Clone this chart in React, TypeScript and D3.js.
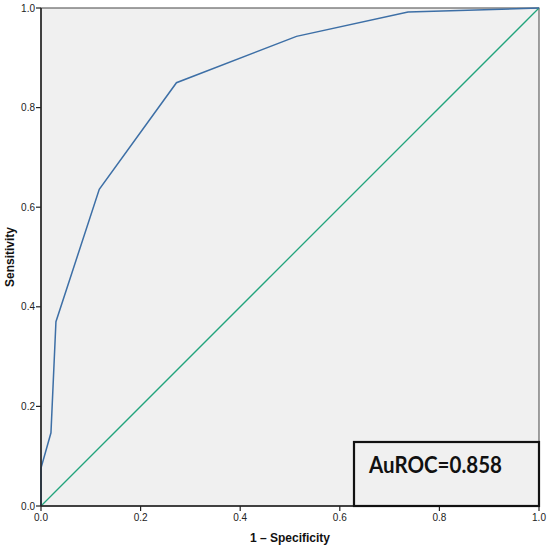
import * as d3 from 'd3';
import { useEffect } from 'react';

// ROC curve points
const fpr = [0, 0.0, 0.02, 0.03, 0.117, 0.272, 0.513, 0.737, 1.0];
const tpr = [0, 0.076, 0.147, 0.37, 0.636, 0.85, 0.943, 0.992, 1.0];
const refLine = [0, 1];
const ticks = [0, 0.2, 0.4, 0.6, 0.8, 1.0];
const aucLabel = 'AuROC=0.858';

export default function App() {
  useEffect(() => {
    document.body.style.margin = '0';
  }, []);

  const W = 550;
  const H = 549;
  const m = { left: 41, top: 8, right: 539, bottom: 506 };

  const x = d3.scaleLinear().domain([0, 1]).range([m.left, m.right]);
  const y = d3.scaleLinear().domain([0, 1]).range([m.bottom, m.top]);

  const line = d3.line<number>()
    .x((_, i) => x(fpr[i]))
    .y((_, i) => y(tpr[i]));
  const diag = d3.line<number>()
    .x(d => x(d))
    .y(d => y(d));

  const fmt = d3.format('.1f');

  return (
    <svg width={W} height={H} style={{ display: 'block', background: '#fff' }}>
      <rect x={m.left} y={m.top} width={m.right - m.left} height={m.bottom - m.top}
        fill="#f0f0f0" stroke="#444" strokeWidth={1} />
      <path d={diag(refLine) || ''} fill="none" stroke="#22a47c" strokeWidth={1.3} />
      <path d={line(fpr) || ''} fill="none" stroke="#3d6fa6" strokeWidth={1.5} />

      {/* axes */}
      <line x1={m.left} x2={m.left} y1={m.top} y2={m.bottom} stroke="#222" strokeWidth={1.5} />
      <line x1={m.left} x2={m.right} y1={m.bottom} y2={m.bottom} stroke="#222" strokeWidth={1.5} />

      {ticks.map(t => (
        <g key={'y' + t} transform={`translate(${m.left},${y(t)})`}>
          <line x1={-5} x2={0} stroke="#222" strokeWidth={1.2} />
          <text x={-6} dy="0.35em" textAnchor="end" fontSize={10}
            fontFamily="'Liberation Sans', Arial, sans-serif" fill="#222">{fmt(t)}</text>
        </g>
      ))}
      {ticks.map(t => (
        <g key={'x' + t} transform={`translate(${x(t)},${m.bottom})`}>
          <line y1={0} y2={5} stroke="#222" strokeWidth={1.2} />
          <text y={15} textAnchor="middle" fontSize={10}
            fontFamily="'Liberation Sans', Arial, sans-serif" fill="#222">{fmt(t)}</text>
        </g>
      ))}

      <text x={(m.left + m.right) / 2} y={542} textAnchor="middle" fontSize={12} fontWeight="bold"
        fontFamily="'Liberation Sans', Arial, sans-serif" fill="#111">1 – Specificity</text>
      <text transform={`translate(14,${(m.top + m.bottom) / 2}) rotate(-90)`} textAnchor="middle"
        fontSize={12} fontWeight="bold" fontFamily="'Liberation Sans', Arial, sans-serif" fill="#111">Sensitivity</text>

      {/* AUC box */}
      <rect x={354} y={442} width={185} height={64} fill="#f0f0f0" stroke="#111" strokeWidth={2.2} />
      <text x={369} y={473} fontSize={22} fontWeight="bold" fontFamily="Lato, 'Open Sans', sans-serif"
        textLength={133} lengthAdjust="spacingAndGlyphs" fill="#111">{aucLabel}</text>
    </svg>
  );
}
